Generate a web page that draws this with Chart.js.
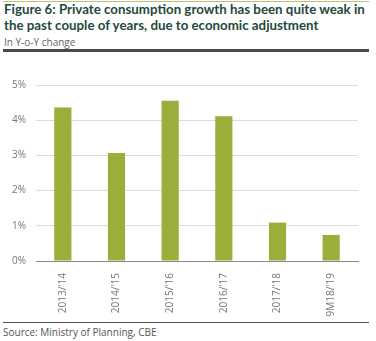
<!DOCTYPE html>
<html>
<head>
<meta charset="utf-8">
<script src="https://cdn.jsdelivr.net/npm/chart.js@4"></script>
<style>
  body { margin: 0; background: #fff; font-family: "Open Sans", sans-serif; }
  .wrap { position: relative; width: 376px; height: 341px; overflow: hidden; }
  .topline { position: absolute; left: 3px; top: 1px; width: 366px; height: 1px; background: #b7c27a; }
  .title { position: absolute; left: 4px; top: 2px; white-space: nowrap; font-family: Lato, sans-serif; font-weight: bold; font-size: 13.3px; line-height: 15.5px; color: #24493b; }
  .sub { position: absolute; left: 4px; top: 35px; font-size: 10px; color: #666; }
  .rule { position: absolute; left: 3px; top: 49px; width: 366px; height: 3px; background: #4a4a4a; }
  .foot { position: absolute; left: 3px; top: 322px; width: 366px; height: 1px; background: #555; }
  .src { position: absolute; left: 3px; top: 325px; font-size: 10px; color: #555; }
  #chart { position: absolute; left: 0; top: 60px; }
</style>
</head>
<body>
<div class="wrap">
  <div class="topline"></div>
  <div class="title">Figure 6: Private consumption growth has been quite weak in<br>the past couple of years, due to economic adjustment</div>
  <div class="sub">In Y-o-Y change</div>
  <div class="rule"></div>
  <canvas id="chart" width="376" height="258"></canvas>
  <div class="foot"></div>
  <div class="src">Source: Ministry of Planning, CBE</div>
</div>
<script>
const years = ["2013/'14", "2014/'15", "2015/'16", "2016/'17", "2017/'18", "9M18/'19"];
const growth = [4.36, 3.07, 4.55, 4.11, 1.09, 0.74];
const yTicks = [0, 1, 2, 3, 4, 5];

const ctx = document.getElementById("chart").getContext("2d");
new Chart(ctx, {
  type: "bar",
  data: {
    labels: years,
    datasets: [
      {
        data: growth,
        backgroundColor: "#9dad3a",
        barPercentage: 0.32,
        categoryPercentage: 1,
      },
    ],
  },
  options: {
    responsive: false,
    animation: false,
    layout: { padding: { top: 25, right: 18, left: 0, bottom: 0 } },
    plugins: { legend: { display: false }, tooltip: { enabled: false } },
    scales: {
      x: {
        grid: { display: false },
        border: { color: "#8a8a8a", width: 1 },
        ticks: {
          minRotation: 90,
          maxRotation: 90,
          padding: 4,
          color: "#777",
          font: { family: "Open Sans", size: 10 },
        },
        afterFit: (s) => { s.height = 57; },
      },
      y: {
        min: 0,
        max: 5,
        afterBuildTicks: (s) => { s.ticks = yTicks.map((v) => ({ value: v })); },
        grid: { color: "#dcdcdc", drawTicks: false },
        border: { display: false },
        ticks: {
          padding: 10,
          color: "#777",
          font: { family: "Open Sans", size: 10 },
          callback: (v) => v + "%",
        },
        afterFit: (s) => { s.width = 36; },
      },
    },
  },
});
</script>
</body>
</html>
